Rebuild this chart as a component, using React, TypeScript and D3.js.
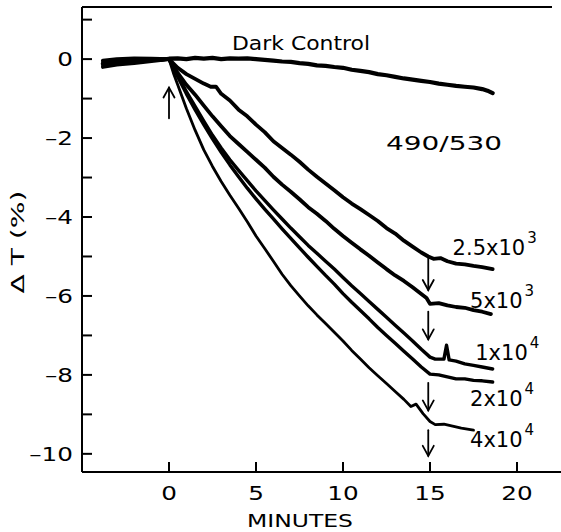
import * as d3 from "d3";

// minutes / ΔT(%)
const darkControl: [number, number][] = [
  [-3.8, -0.12], [-3.2, -0.06], [-2.5, -0.09], [-2, -0.03], [-1.5, -0.05], [-1, 0.0], [-0.5, -0.02], [0, 0.01],
  [0.5, 0.02], [1, 0.0], [1.5, 0.03], [2, 0.01], [2.5, 0.03], [3, 0.0], [3.5, 0.02], [4, 0.01], [4.5, 0.02],
  [5, 0.0], [5.5, -0.02], [6, -0.04], [6.5, -0.06], [7, -0.07], [7.5, -0.1], [8, -0.12], [8.5, -0.16],
  [9, -0.17], [9.5, -0.2], [10, -0.22], [10.5, -0.27], [11, -0.3], [11.5, -0.33], [12, -0.38], [12.5, -0.41],
  [13, -0.45], [13.5, -0.49], [14, -0.52], [14.5, -0.55], [15, -0.58], [15.5, -0.62], [16, -0.65],
  [16.5, -0.68], [17, -0.7], [17.5, -0.72], [18, -0.76], [18.3, -0.8], [18.6, -0.86],
];

const trace25e3: [number, number][] = [
  [-3.8, -0.04], [-3, 0.0], [-2, 0.02], [-1, 0.01], [0, 0],
  [0.5, -0.22], [1, -0.38], [1.5, -0.5], [2, -0.62], [2.4, -0.7], [2.7, -0.7], [3, -0.88], [3.5, -1.05],
  [4, -1.28], [4.5, -1.45], [5, -1.66], [5.5, -1.85], [6, -2.08], [6.5, -2.25], [7, -2.42], [7.5, -2.6],
  [8, -2.8], [8.5, -2.98], [9, -3.15], [9.5, -3.32], [10, -3.5], [10.5, -3.66], [11, -3.8], [11.5, -3.95],
  [12, -4.1], [12.5, -4.28], [13, -4.42], [13.5, -4.6], [14, -4.75], [14.5, -4.9], [14.9, -5.0],
  [15.2, -5.06], [15.6, -5.04], [16, -5.12], [16.5, -5.18], [17, -5.2], [17.5, -5.24], [18, -5.27],
  [18.6, -5.32],
];

const trace5e3: [number, number][] = [
  [-3.8, -0.2], [-3, -0.14], [-2, -0.1], [-1, -0.05], [0, 0],
  [0.5, -0.35], [1, -0.65], [1.5, -0.9], [2, -1.18], [2.5, -1.45], [3, -1.7], [3.5, -1.95], [4, -2.15],
  [4.5, -2.35], [5, -2.55], [5.5, -2.75], [6, -2.98], [6.5, -3.18], [7, -3.36], [7.5, -3.55], [8, -3.75],
  [8.5, -3.92], [9, -4.1], [9.5, -4.3], [10, -4.48], [10.5, -4.65], [11, -4.82], [11.5, -4.98],
  [12, -5.15], [12.5, -5.32], [13, -5.48], [13.5, -5.62], [14, -5.78], [14.5, -5.95], [14.8, -6.05],
  [15, -6.2], [15.5, -6.18], [16, -6.24], [16.5, -6.28], [17, -6.3], [17.5, -6.36], [18, -6.4],
  [18.5, -6.46],
];

const trace1e4: [number, number][] = [
  [-3.8, -0.08], [-3, -0.1], [-2, -0.04], [-1, -0.03], [0, 0],
  [0.5, -0.42], [1, -0.82], [1.5, -1.2], [2, -1.57], [2.5, -1.93], [3, -2.25], [3.5, -2.55], [4, -2.82],
  [4.5, -3.08], [5, -3.34], [5.5, -3.58], [6, -3.82], [6.5, -4.05], [7, -4.28], [7.5, -4.5], [8, -4.72],
  [8.5, -4.92], [9, -5.12], [9.5, -5.32], [10, -5.53], [10.5, -5.74], [11, -5.94], [11.5, -6.14],
  [12, -6.34], [12.5, -6.54], [13, -6.74], [13.5, -6.94], [14, -7.14], [14.5, -7.35], [15, -7.55],
  [15.3, -7.6], [15.8, -7.6], [15.95, -7.25], [16.1, -7.62], [16.5, -7.65], [17, -7.72], [17.5, -7.76],
  [18, -7.8], [18.6, -7.85],
];

const trace2e4: [number, number][] = [
  [-3.8, -0.16], [-3, -0.08], [-2, -0.06], [-1, -0.02], [0, 0],
  [0.5, -0.45], [1, -0.88], [1.5, -1.28], [2, -1.66], [2.5, -2.02], [3, -2.36], [3.5, -2.68], [4, -2.98],
  [4.5, -3.27], [5, -3.54], [5.5, -3.8], [6, -4.05], [6.5, -4.3], [7, -4.54], [7.5, -4.78], [8, -5.02],
  [8.5, -5.25], [9, -5.48], [9.5, -5.7], [10, -5.94], [10.5, -6.16], [11, -6.37], [11.5, -6.58],
  [12, -6.8], [12.5, -7.0], [13, -7.2], [13.5, -7.4], [14, -7.6], [14.5, -7.8], [15, -7.98], [15.5, -8.0],
  [16, -8.05], [16.5, -8.1], [17, -8.1], [17.5, -8.14], [18, -8.15], [18.6, -8.18],
];

const trace4e4: [number, number][] = [
  [-3.8, -0.1], [-3, -0.04], [-2, -0.07], [-1, 0.0], [0, 0],
  [0.25, -0.35], [0.5, -0.65], [1, -1.25], [1.5, -1.8], [2, -2.3], [2.5, -2.72], [3, -3.1], [3.5, -3.45],
  [4, -3.78], [4.5, -4.12], [5, -4.48], [5.5, -4.8], [6, -5.12], [6.5, -5.45], [7, -5.74], [7.5, -6.0],
  [8, -6.25], [8.5, -6.48], [9, -6.7], [9.5, -6.92], [10, -7.14], [10.5, -7.38], [11, -7.6], [11.5, -7.82],
  [12, -8.02], [12.5, -8.22], [13, -8.42], [13.5, -8.62], [13.9, -8.8], [14.2, -8.74], [14.6, -8.98],
  [15, -9.18], [15.3, -9.26], [15.8, -9.25], [16.3, -9.3], [16.8, -9.35], [17.5, -9.4],
];

const traces = [darkControl, trace25e3, trace5e3, trace1e4, trace2e4, trace4e4];
const traceWidths = [4.2, 3.8, 3.8, 3.4, 3.4, 2.8];

const xTicks = [0, 5, 10, 15, 20];
const yMajorTicks = [0, -2, -4, -6, -8, -10];
const yMinorTicks = [1, -1, -3, -5, -7, -9];

const doseText = ["2.5x10", "5x10", "1x10", "2x10", "4x10"];
const doseExp = ["3", "3", "4", "4", "4"];
// label anchors (minute, ΔT baseline)
const doseAt: [number, number][] = [[16.3, -4.96], [17.3, -6.3], [17.6, -7.62], [17.3, -8.8], [17.3, -9.82]];

// light on (up) and light off (down) arrows: minute, tail, head
const upArrow = { m: 0, from: -1.5, to: -0.72 };
const downArrows = [
  { m: 14.9, from: -5.05, to: -5.85 },
  { m: 14.9, from: -6.4, to: -7.1 },
  { m: 14.9, from: -8.2, to: -8.9 },
  { m: 14.9, from: -9.4, to: -10.05 },
];

const font = "'DejaVu Sans', Verdana, sans-serif";
const stretch = 1.3; // the original lettering is wide

export default function App() {
  const W = 561;
  const H = 532;
  const x = d3.scaleLinear().domain([-5, 22.5]).range([82, 560.5]);
  const y = d3.scaleLinear().domain([1.32, -10.46]).range([7, 472]);
  const x0 = x(-5);
  const yTop = y(1.32);
  const yBot = y(-10.46);

  const line = d3
    .line<[number, number]>()
    .x((d) => x(d[0]))
    .y((d) => y(d[1]))
    .curve(d3.curveLinear);

  const arrow = (a: { m: number; from: number; to: number }, key: string) => {
    const ax = x(a.m);
    const y1 = y(a.from);
    const y2 = y(a.to);
    const dir = y2 > y1 ? 1 : -1;
    return (
      <g key={key} stroke="#000" strokeWidth={1.8} fill="none" strokeLinecap="round">
        <line x1={ax} y1={y1} x2={ax} y2={y2} />
        <path d={`M${ax - 5.5},${y2 - dir * 10} L${ax},${y2} L${ax + 5.5},${y2 - dir * 10}`} />
      </g>
    );
  };

  return (
    <svg
      width={W}
      height={H}
      style={{ position: "absolute", left: 0, top: 0, background: "#fff" }}
      fontFamily={font}
    >
      {/* frame */}
      <g stroke="#000" strokeWidth={2} fill="none">
        <line x1={x0} y1={yTop} x2={x0} y2={yBot} />
        <line x1={x0} y1={yBot} x2={W} y2={yBot} />
        <line x1={x0} y1={yTop} x2={552} y2={yTop} />
      </g>

      {/* ticks */}
      <g stroke="#000" strokeWidth={2}>
        {yMajorTicks.concat(yMinorTicks).map((t) => (
          <line key={"yt" + t} x1={x0} x2={x0 + 10} y1={y(t)} y2={y(t)} />
        ))}
        {xTicks.map((t) => (
          <line key={"xt" + t} x1={x(t)} x2={x(t)} y1={yBot} y2={yBot - 10} />
        ))}
      </g>
      <g fontSize={19} fill="#000">
        {yMajorTicks.map((t) => (
          <text
            key={"yl" + t}
            transform={`translate(73,${y(t) + 7}) scale(${stretch},1)`}
            textAnchor="end"
          >
            {t < 0 ? "\u2013" + Math.abs(t) : String(t)}
          </text>
        ))}
        {xTicks.map((t) => (
          <text key={"xl" + t} transform={`translate(${x(t)},500) scale(${stretch},1)`} textAnchor="middle">
            {t}
          </text>
        ))}
      </g>

      <text x={247} y={527} fontSize={18} textLength={106} lengthAdjust="spacingAndGlyphs">
        MINUTES
      </text>
      <text
        transform={`translate(24,242) rotate(-90)`}
        textAnchor="middle"
        fontSize={17}
        textLength={103}
        lengthAdjust="spacingAndGlyphs"
      >
        {"\u0394 T  (%)"}
      </text>

      {/* traces */}
      <g fill="none" stroke="#000" strokeLinejoin="round" strokeLinecap="round">
        {traces.map((t, i) => (
          <path key={"tr" + i} d={line(t) ?? ""} strokeWidth={traceWidths[i]} />
        ))}
      </g>

      {arrow(upArrow, "up")}
      {downArrows.map((a, i) => arrow(a, "dn" + i))}

      <text x={232} y={50} fontSize={20} textLength={138} lengthAdjust="spacingAndGlyphs">
        Dark Control
      </text>
      <text x={386} y={150} fontSize={20} textLength={116} lengthAdjust="spacingAndGlyphs">
        490/530
      </text>

      {doseText.map((s, i) => (
        <text key={"dose" + i} x={x(doseAt[i][0])} y={y(doseAt[i][1])} fontSize={21}>
          {s}
          <tspan dx={2} dy={-12} fontSize={15}>
            {doseExp[i]}
          </tspan>
        </text>
      ))}
    </svg>
  );
}
